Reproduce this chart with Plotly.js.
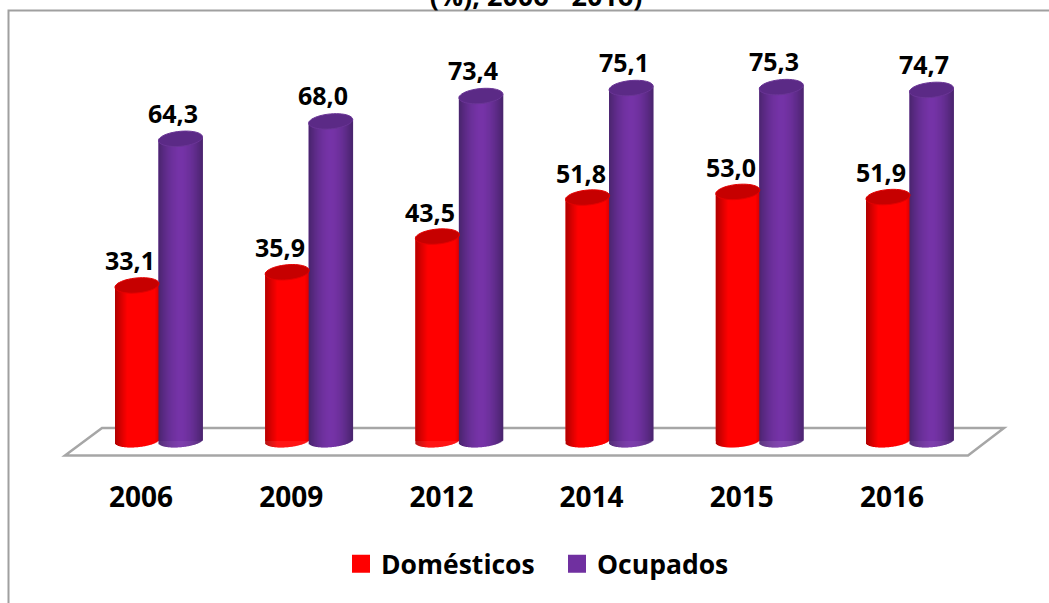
<!DOCTYPE html>
<html><head><meta charset="utf-8">
<script src="https://cdn.plot.ly/plotly-3.0.1.min.js"></script>
<style>html,body{margin:0;padding:0;background:#fff}#c{width:1049px;height:603px}</style>
</head><body><div id="c"></div>
<script>
const years = ['2006','2009','2012','2014','2015','2016'];
const domesticos = [33.1,35.9,43.5,51.8,53.0,51.9];
const ocupados = [64.3,68.0,73.4,75.1,75.3,74.7];
const titleText = '(%), 2006 - 2016)';

// pixel geometry of the pseudo-3D frame
const W=1049,H=603,plotBottom=470,x0px=158,y0px=441,pxX=150.2,pxY=4.7;
const FONT='"Open Sans", sans-serif';
const X=p=>(p-x0px)/pxX, Y=p=>(y0px-p)/pxY;
const PX=p=>p/W, PY=p=>1-p/plotBottom;
const idx=years.map((_,i)=>i);
const barPx=44, n=44, bTop=7.5, bBot=6.2, slope=0.085;

function mix(a,b,t){return 'rgb('+a.map((v,i)=>Math.round(v+(b[i]-v)*t)).join(',')+')';}
function redShade(t){
  if(t<0.28) return mix([176,0,0],[255,0,0],t/0.28);
  if(t>0.9) return mix([255,0,0],[215,0,0],(t-0.9)/0.1);
  return 'rgb(255,0,0)';
}
function purpleShade(t){
  const d=Math.abs(t-0.5)*2;
  return mix([118,52,168],[72,36,108],Math.pow(d,1.7));
}
function strips(vals,leftPx,shade){
  const x=[],y=[],base=[],color=[],width=[],offset=[];
  idx.forEach(i=>{
    for(let k=0;k<n;k++){
      const step=barPx/n, dx=-barPx/2+(k+0.5)*step, a=barPx/2;
      const t=(k+0.5)/n;
      const top=vals[i]+slope*dx/pxY;
      const low=(slope*dx-bBot*Math.sqrt(Math.max(0,1-dx*dx/(a*a))))/pxY;
      x.push(i); base.push(low); y.push(top-low);
      color.push(shade(t)); width.push((step+0.4)/pxX); offset.push((leftPx+k*step)/pxX);
    }
  });
  return {type:'bar',x,y,base,width,offset,marker:{color,line:{width:0}},showlegend:false,hoverinfo:'skip'};
}
function ellipse(i,v,leftPx){
  const cx=leftPx+barPx/2,pts=[];
  for(let k=0;k<=48;k++){
    const th=k/48*2*Math.PI, dx=barPx/2*Math.cos(th), dy=bTop*Math.sin(th)+slope*dx;
    pts.push((k?'L':'M')+(i+(cx+dx)/pxX).toFixed(4)+','+(v+dy/pxY).toFixed(3));
  }
  return pts.join(' ')+' Z';
}
const redLeft=-43, purpleLeft=0.5;
const shapes=[
  {type:'path',xref:'x',yref:'y',layer:'below',
   path:`M${X(102)},${Y(428)} L${X(65)},${Y(455.5)} L${X(968)},${Y(455.5)} L${X(1004)},${Y(428)} Z`,
   line:{color:'#a6a6a6',width:2.5}},
  {type:'path',xref:'paper',yref:'paper',layer:'below',
   path:`M${PX(8.5)},${PY(603)} L${PX(8.5)},${PY(10.5)} L${PX(1049)},${PY(10.5)}`,
   line:{color:'#a0a0a0',width:2}}
];
idx.forEach(i=>{
  shapes.push({type:'path',xref:'x',yref:'y',layer:'above',path:ellipse(i,domesticos[i],redLeft),
    fillcolor:'#c60000',line:{color:'#e40000',width:1}});
});
idx.forEach(i=>{
  shapes.push({type:'path',xref:'x',yref:'y',layer:'above',path:ellipse(i,ocupados[i],purpleLeft),
    fillcolor:'#5b2a86',line:{color:'#6a3596',width:1}});
});
const labelFont={family:FONT,size:25,color:'#000',weight:700};
const fmt=v=>v.toFixed(1).replace('.',',');
const annotations=[];
idx.forEach(i=>{
  annotations.push({x:i-28/pxX,y:domesticos[i],yshift:25,text:fmt(domesticos[i]),showarrow:false,font:labelFont,xanchor:'center',yanchor:'middle'});
  annotations.push({x:i+15/pxX,y:ocupados[i],yshift:26,text:fmt(ocupados[i]),showarrow:false,font:labelFont,xanchor:'center',yanchor:'middle'});
});
const data=[
  {type:'bar',name:'Domésticos',x:idx,y:domesticos,width:barPx/pxX,offset:redLeft/pxX,marker:{color:'#ff0000'},showlegend:false},
  {type:'bar',name:'Ocupados',x:idx,y:ocupados,width:barPx/pxX,offset:purpleLeft/pxX,marker:{color:'#7030a0'},showlegend:false},
  strips(domesticos,redLeft,redShade),
  strips(ocupados,purpleLeft,purpleShade),
  {type:'scatter',mode:'markers',name:'Domésticos',x:[null],y:[null],marker:{symbol:'square',size:16,color:'#ff0000',line:{color:'#ff0000',width:2}}},
  {type:'scatter',mode:'markers',name:'Ocupados',x:[null],y:[null],marker:{symbol:'square',size:16,color:'#7030a0',line:{color:'#7030a0',width:2}}}
];
const layout={
  width:W,height:H,margin:{l:0,r:0,t:0,b:H-plotBottom,pad:0},
  paper_bgcolor:'#fff',plot_bgcolor:'rgba(0,0,0,0)',
  barmode:'overlay',
  title:{text:titleText,font:{family:FONT,size:27,color:'#000',weight:700},x:536/W,xanchor:'center',yref:'container',y:0.99,yanchor:'bottom',pad:{t:0,b:0}},
  xaxis:{range:[X(0),X(W)],tickmode:'array',tickvals:idx.map(i=>i-17/pxX),ticktext:years,showgrid:false,zeroline:false,showline:false,
    ticks:'outside',ticklen:2,tickcolor:'rgba(0,0,0,0)',tickfont:{family:FONT,size:28,color:'#000',weight:700},fixedrange:true},
  yaxis:{range:[Y(plotBottom),Y(0)],visible:false,fixedrange:true},
  legend:{orientation:'h',x:PX(341),xanchor:'left',y:PY(564),yanchor:'middle',font:{family:FONT,size:26.5,color:'#000',weight:700},
    itemsizing:'trace',entrywidth:171,entrywidthmode:'pixels',bgcolor:'rgba(0,0,0,0)',borderwidth:0},
  shapes,annotations
};
Plotly.newPlot('c',data,layout,{displayModeBar:false,staticPlot:true});
</script></body></html>
